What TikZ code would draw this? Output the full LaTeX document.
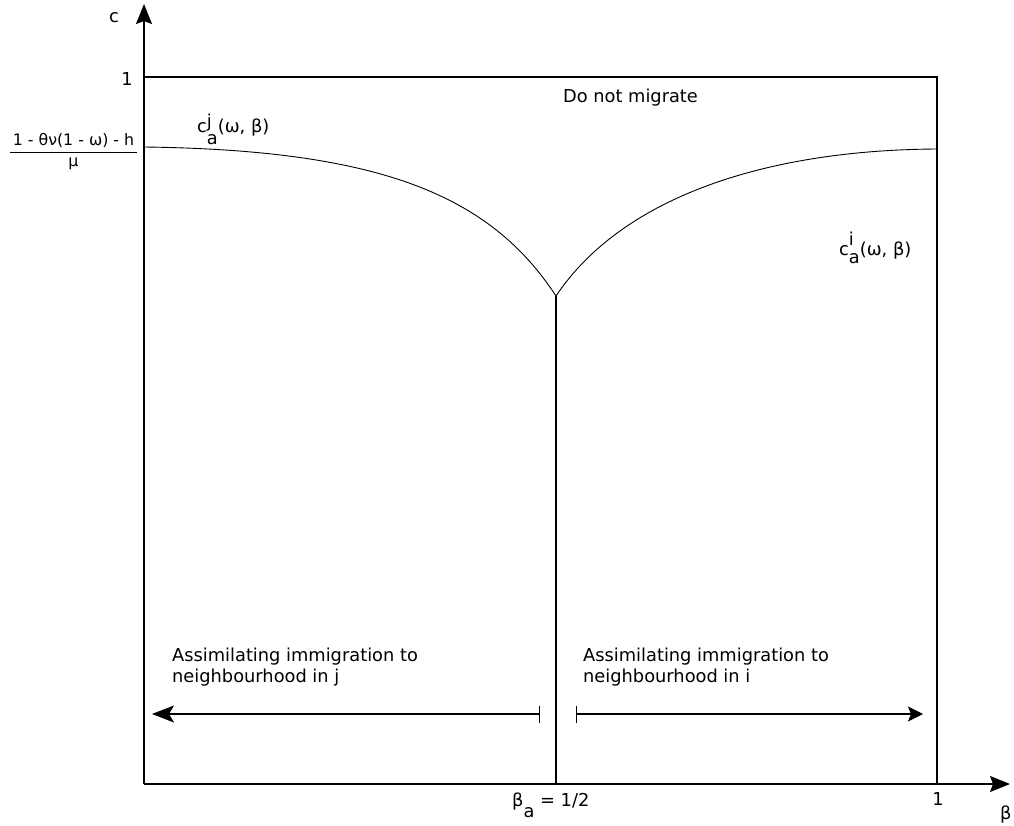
\documentclass[tikz,border=0pt]{standalone}
\usepackage{fontspec}
\setmainfont{DejaVu Sans}
\usetikzlibrary{arrows.meta}
\begin{document}
\begin{tikzpicture}[x=1pt,y=-1pt,
  lbl/.style={font=\fontsize{17.8}{21.5}\selectfont, inner sep=0pt},
  axis/.style={line width=1.6pt, -{Stealth[length=20pt,width=16pt,inset=3pt]}},
  frame/.style={line width=1.3pt},
  curve/.style={line width=0.9pt},
  interval/.style={line width=1.3pt}]
\useasboundingbox (0,0) rectangle (1014,826);
\coordinate (O) at (144,784);
\coordinate (ytip) at (144,4);
\coordinate (xtip) at (1010,784);
\coordinate (TL) at (144,77);
\coordinate (TR) at (937,77);
\coordinate (BR) at (937,784);
\coordinate (cusp) at (556,296);
\coordinate (BM) at (556,784);
\coordinate (L0) at (144,147);
\coordinate (R0) at (937,149);
\coordinate (la) at (540,714);
\coordinate (lt) at (152,714);
\coordinate (ra) at (576,714);
\coordinate (rt) at (923,714);
% frame
\draw[frame] (TL) -- (TR) -- (BR);
\draw[frame] (cusp) -- (BM);
% axes
\draw[axis] (O) -- (ytip);
\draw[axis] (O) -- (xtip);
% curves
\draw[curve] (L0) .. controls (380,150) and (490,195) .. (cusp);
\draw[curve] (cusp) .. controls (620,200) and (760,150) .. (R0);
% interval arrows
\draw[interval, {Bar[width=17pt]}-{Stealth[length=22pt,width=17pt,inset=5pt]}] (la) -- (lt);
\draw[interval, {Bar[width=17pt]}-{Stealth[length=15pt,width=15pt,inset=3pt]}] (ra) -- (rt);
% labels
\node[lbl] (clab) at (114,18) {c};
\node[lbl] (onelab) at (127,79) {1};
\node[inner sep=0pt, anchor=north, font=\fontsize{15.8}{18}\selectfont] (frac) at (73.5,133)
  {\setlength{\arrayrulewidth}{0.8pt}\begin{tabular}{@{\,}c@{\,}}1 - θν(1 - ω) - h\\[1pt]\hline\rule{0pt}{14pt}μ\end{tabular}};
\node[lbl, anchor=base west] (cj) at (197,133) {c\rlap{\raisebox{5pt}{j}}\raisebox{-12pt}{a}(ω, β)};
\node[lbl, anchor=base west] (ci) at (839,256) {c\rlap{\raisebox{10pt}{i}}\raisebox{-7pt}{a}(ω, β)};
\node[lbl, anchor=base] (nomig) at (630.5,103) {Do not migrate};
\node[lbl, anchor=north west, align=left] (assj) at (172,647.5) {Assimilating immigration to\\neighbourhood in j};
\node[lbl, anchor=north west, align=left] (assi) at (583,647.5) {Assimilating immigration to\\neighbourhood in i};
\node[lbl, anchor=base west] (betaa) at (512,806) {β\raisebox{-11pt}{a} = 1/2};
\node[lbl] (onex) at (938,799.5) {1};
\node[lbl, anchor=base west] (betax) at (1000,819) {β};
\end{tikzpicture}
\end{document}
